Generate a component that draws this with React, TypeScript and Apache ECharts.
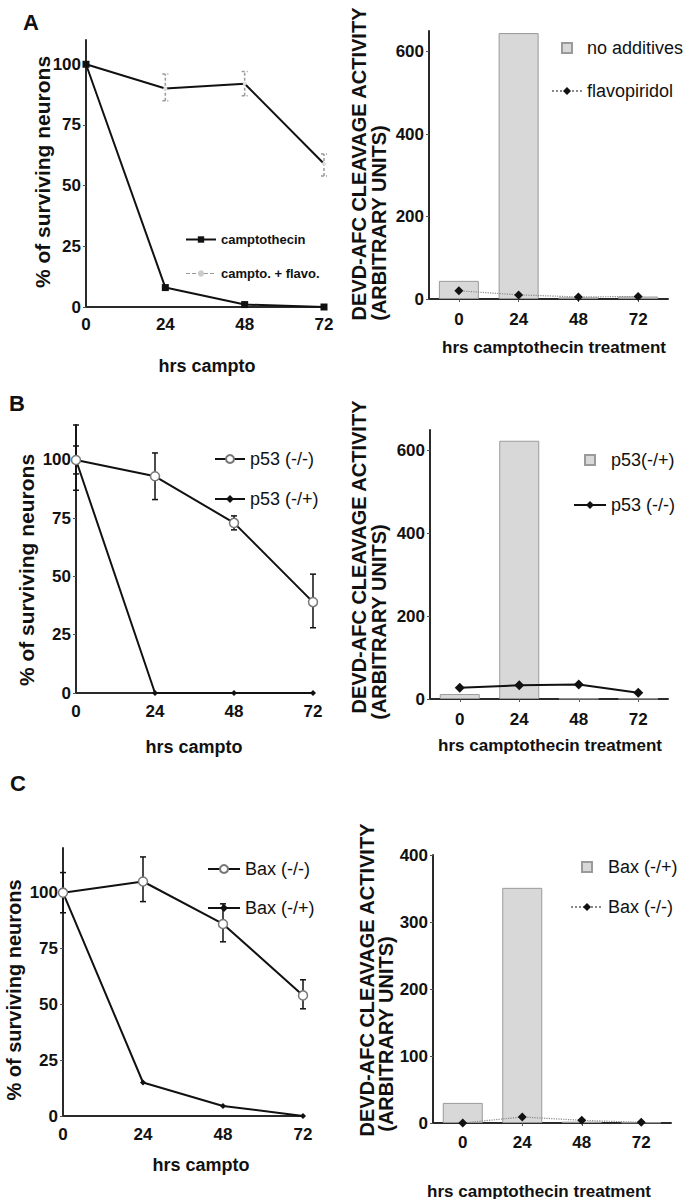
import React, { useEffect, useRef } from 'react';
import * as echarts from 'echarts';

// ---------- data ----------
const hours = [0, 24, 48, 72];
const hourLabels = ['0', '24', '48', '72'];
const survivalTicks = [0, 25, 50, 75, 100];

// Panel A
const aCamptothecin = [100, 8, 1, 0];
const aCamptoFlavo = [100, 90, 92, 59];
const aCamptoFlavoLow = [null, 85, 87, 54];
const aCamptoFlavoHigh = [null, 96, 97, 63];
const aNoAdditives = [44, 645, 4, 6];
const aFlavopiridol = [20, 10, 5, 6];
const aActivityTicks = [0, 200, 400, 600];

// Panel B
const bP53KO = [100, 93, 73, 39];
const bP53KOLow = [94, 83, 70, 28];
const bP53KOHigh = [106, 103, 76, 51];
const bP53Het = [100, 0, 0, 0];
const bP53HetLow = [87, null, null, null];
const bP53HetHigh = [115, null, null, null];
const bActivityHet = [12, 624, 1, 1];
const bActivityKO = [27, 33, 35, 15];
const bActivityTicks = [0, 200, 400, 600];

// Panel C
const cBaxKO = [100, 105, 86, 54];
const cBaxKOLow = [null, 96, 78, 48];
const cBaxKOHigh = [null, 116, 95, 61];
const cBaxHet = [100, 15, 4.5, 0];
const cBaxHetLow = [91, null, null, null];
const cBaxHetHigh = [109, null, null, null];
const cActivityHet = [30, 351, 2, 1];
const cActivityKO = [0, 9, 4, 1];
const cActivityTicks = [0, 100, 200, 300, 400];

// ---------- styling ----------
const FONT = '"Liberation Sans", Arial, Helvetica, sans-serif';
const INK = '#111';
const axisLineStyle = { color: '#2a2a2a', width: 2 };
const tickFont = { fontSize: 17, fontWeight: 'bold', color: INK, fontFamily: FONT };

const pts = (ys: (number | null)[]) => hours.map((h, i) => [h, ys[i]]);

function valueX(grid: number, margin: number) {
  return {
    type: 'value', gridIndex: grid, min: 0, max: 72, interval: 24,
    axisLine: { show: true, onZero: false, lineStyle: axisLineStyle },
    axisTick: { show: false }, splitLine: { show: false },
    axisLabel: { ...tickFont, margin },
  };
}
function categoryX(grid: number, margin: number) {
  return {
    type: 'category', gridIndex: grid, data: hourLabels, boundaryGap: true,
    axisLine: { show: true, onZero: false, lineStyle: axisLineStyle },
    axisTick: { show: true, alignWithLabel: true, length: 3, lineStyle: { color: '#555', width: 1 } },
    splitLine: { show: false },
    axisLabel: { ...tickFont, margin },
  };
}
function valueY(grid: number, max: number, interval: number, ticks: number[]) {
  return {
    type: 'value', gridIndex: grid, min: 0, max, interval,
    axisLine: { show: true, onZero: false, lineStyle: axisLineStyle },
    axisTick: { show: true, length: 3, customValues: ticks, lineStyle: { color: '#555', width: 1 } },
    splitLine: { show: false },
    axisLabel: { ...tickFont, margin: 5, customValues: ticks },
  };
}

function errorBars(idx: number, lows: (number | null)[], highs: (number | null)[], color: string, dashed: boolean) {
  const data: number[][] = [];
  hours.forEach((h, i) => {
    if (lows[i] != null && highs[i] != null) data.push([h, lows[i] as number, highs[i] as number]);
  });
  return {
    type: 'custom', xAxisIndex: idx, yAxisIndex: idx, silent: true, z: 1,
    encode: { x: 0, y: [1, 2] },
    data,
    renderItem: (params: any, api: any) => {
      const x = api.value(0);
      const p1 = api.coord([x, api.value(1)]);
      const p2 = api.coord([x, api.value(2)]);
      const style = { stroke: color, lineWidth: 1.5, lineDash: dashed ? [3, 2] : null };
      const cap = 3;
      return {
        type: 'group',
        children: [
          { type: 'line', shape: { x1: p1[0], y1: p1[1], x2: p2[0], y2: p2[1] }, style },
          { type: 'line', shape: { x1: p1[0] - cap, y1: p1[1], x2: p1[0] + cap, y2: p1[1] }, style },
          { type: 'line', shape: { x1: p2[0] - cap, y1: p2[1], x2: p2[0] + cap, y2: p2[1] }, style },
        ],
      };
    },
  };
}

const barStyle = { color: '#d8d8d8', borderColor: '#9a9a9a', borderWidth: 1 };
const squareIcon = 'path://M0,0L10,0L10,10L0,10Z';
const legendText = { fontSize: 18, color: INK, fontFamily: FONT };
const stripActivity = (name: string) => name.replace(' activity', '');

function yTitle(x: number, y: number, text: string, size: number) {
  return {
    type: 'text', x, y, rotation: Math.PI / 2,
    style: { text, fontSize: size, fontWeight: 'bold', fontFamily: FONT, fill: INK, align: 'center', verticalAlign: 'middle' },
  };
}
function label(x: number, y: number, text: string, size: number) {
  return {
    type: 'text', x, y,
    style: { text, fontSize: size, fontWeight: 'bold', fontFamily: FONT, fill: INK, align: 'center', verticalAlign: 'middle' },
  };
}

export default function App() {
  const ref = useRef<HTMLDivElement>(null);
  useEffect(() => {
    if (!ref.current) return;
    const chart = echarts.init(ref.current, null, { renderer: 'svg' });
    const option: any = {
      animation: false,
      backgroundColor: '#fff',
      textStyle: { fontFamily: FONT },
      grid: [
        { left: 86, top: 40, width: 238, height: 267 },
        { left: 429, top: 31, width: 239, height: 268 },
        { left: 76, top: 425, width: 237, height: 268 },
        { left: 430, top: 430, width: 238, height: 269 },
        { left: 63, top: 848, width: 240, height: 268 },
        { left: 433, top: 855, width: 238, height: 268 },
      ],
      xAxis: [
        valueX(0, 9),
        categoryX(1, 12),
        valueX(2, 10),
        categoryX(3, 12),
        valueX(4, 10),
        categoryX(5, 11),
      ],
      yAxis: [
        valueY(0, 110, 25, survivalTicks),
        valueY(1, 650, 200, aActivityTicks),
        valueY(2, 115, 25, survivalTicks),
        valueY(3, 650, 200, bActivityTicks),
        valueY(4, 120, 25, survivalTicks),
        valueY(5, 400, 100, cActivityTicks),
      ],
      legend: [
        {
          orient: 'vertical', left: 180, top: 228, itemWidth: 30, itemHeight: 8, itemGap: 21,
          textStyle: { fontSize: 13, fontWeight: 'bold', color: INK, fontFamily: FONT },
          data: [
            { name: 'camptothecin' },
            { name: 'campto. + flavo.', lineStyle: { color: '#999', type: 'dashed', width: 1 }, itemStyle: { color: '#ccc' } },
          ],
        },
        {
          orient: 'vertical', left: 546, top: 34, itemWidth: 30, itemHeight: 10, itemGap: 25,
          textStyle: legendText,
          data: [{ name: 'no additives', icon: squareIcon }, { name: 'flavopiridol' }],
        },
        {
          orient: 'vertical', left: 209, top: 445, itemWidth: 30, itemHeight: 10, itemGap: 22,
          textStyle: legendText,
          data: [{ name: 'p53 (-/-)' }, { name: 'p53 (-/+)' }],
        },
        {
          orient: 'vertical', left: 568, top: 446, itemWidth: 32, itemHeight: 10, itemGap: 27,
          textStyle: legendText, formatter: stripActivity,
          data: [{ name: 'p53(-/+)', icon: squareIcon }, { name: 'p53 (-/-) activity' }],
        },
        {
          orient: 'vertical', left: 202, top: 855, itemWidth: 32, itemHeight: 10, itemGap: 21,
          textStyle: legendText,
          data: [{ name: 'Bax (-/-)' }, { name: 'Bax (-/+)' }],
        },
        {
          orient: 'vertical', left: 565, top: 853, itemWidth: 32, itemHeight: 10, itemGap: 22,
          textStyle: legendText, formatter: stripActivity,
          data: [{ name: 'Bax (-/+) activity', icon: squareIcon }, { name: 'Bax (-/-) activity' }],
        },
      ],
      series: [
        // A left
        errorBars(0, aCamptoFlavoLow, aCamptoFlavoHigh, '#9a9a9a', true),
        {
          name: 'campto. + flavo.', type: 'line', xAxisIndex: 0, yAxisIndex: 0, z: 2,
          data: pts(aCamptoFlavo), symbol: 'circle', symbolSize: 4,
          itemStyle: { color: '#dddddd' }, lineStyle: { color: INK, width: 2 },
        },
        {
          name: 'camptothecin', type: 'line', xAxisIndex: 0, yAxisIndex: 0, z: 3,
          data: pts(aCamptothecin), symbol: 'rect', symbolSize: 7,
          itemStyle: { color: INK }, lineStyle: { color: INK, width: 2 },
        },
        // A right
        {
          name: 'no additives', type: 'bar', xAxisIndex: 1, yAxisIndex: 1, barWidth: 40,
          data: aNoAdditives, itemStyle: barStyle,
        },
        {
          name: 'flavopiridol', type: 'line', xAxisIndex: 1, yAxisIndex: 1, z: 3,
          data: aFlavopiridol, symbol: 'diamond', symbolSize: 9,
          itemStyle: { color: INK }, lineStyle: { color: '#888', width: 1.2, type: 'dotted' },
        },
        // B left
        errorBars(2, bP53KOLow, bP53KOHigh, INK, false),
        errorBars(2, bP53HetLow, bP53HetHigh, INK, false),
        {
          name: 'p53 (-/+)', type: 'line', xAxisIndex: 2, yAxisIndex: 2, z: 2,
          data: pts(bP53Het), symbol: 'diamond', symbolSize: 6,
          itemStyle: { color: INK }, lineStyle: { color: INK, width: 2 },
        },
        {
          name: 'p53 (-/-)', type: 'line', xAxisIndex: 2, yAxisIndex: 2, z: 3,
          data: pts(bP53KO), symbol: 'circle', symbolSize: 9,
          itemStyle: { color: '#fff', borderColor: '#777', borderWidth: 1.5 }, lineStyle: { color: INK, width: 2 },
        },
        // B right
        {
          name: 'p53(-/+)', type: 'bar', xAxisIndex: 3, yAxisIndex: 3, barWidth: 40,
          data: bActivityHet, itemStyle: barStyle,
        },
        {
          name: 'p53 (-/-) activity', type: 'line', xAxisIndex: 3, yAxisIndex: 3, z: 3,
          data: bActivityKO, symbol: 'diamond', symbolSize: 10,
          itemStyle: { color: INK }, lineStyle: { color: INK, width: 2 },
        },
        // C left
        errorBars(4, cBaxKOLow, cBaxKOHigh, INK, false),
        errorBars(4, cBaxHetLow, cBaxHetHigh, INK, false),
        {
          name: 'Bax (-/+)', type: 'line', xAxisIndex: 4, yAxisIndex: 4, z: 2,
          data: pts(cBaxHet), symbol: 'diamond', symbolSize: 6,
          itemStyle: { color: INK }, lineStyle: { color: INK, width: 2 },
        },
        {
          name: 'Bax (-/-)', type: 'line', xAxisIndex: 4, yAxisIndex: 4, z: 3,
          data: pts(cBaxKO), symbol: 'circle', symbolSize: 9,
          itemStyle: { color: '#fff', borderColor: '#777', borderWidth: 1.5 }, lineStyle: { color: INK, width: 2 },
        },
        // C right
        {
          name: 'Bax (-/+) activity', type: 'bar', xAxisIndex: 5, yAxisIndex: 5, barWidth: 40,
          data: cActivityHet, itemStyle: barStyle,
        },
        {
          name: 'Bax (-/-) activity', type: 'line', xAxisIndex: 5, yAxisIndex: 5, z: 3,
          data: cActivityKO, symbol: 'diamond', symbolSize: 9,
          itemStyle: { color: INK }, lineStyle: { color: '#888', width: 1.2, type: 'dotted' },
        },
      ],
      graphic: [
        label(31, 22, 'A', 22),
        label(17, 403, 'B', 22),
        label(18, 783, 'C', 22),
        yTitle(42, 172, '% of surviving neurons', 21),
        yTitle(26, 570, '% of surviving neurons', 21),
        yTitle(14, 990, '% of surviving neurons', 20),
        yTitle(359, 164, 'DEVD-AFC CLEAVAGE ACTIVITY', 20),
        yTitle(379, 223, '(ARBITRARY UNITS)', 20),
        yTitle(359, 557, 'DEVD-AFC CLEAVAGE ACTIVITY', 20),
        yTitle(379, 622, '(ARBITRARY UNITS)', 20),
        yTitle(367, 980, 'DEVD-AFC CLEAVAGE ACTIVITY', 20),
        yTitle(386, 1034, '(ARBITRARY UNITS)', 20),
        label(207, 366, 'hrs campto', 18),
        label(554, 347, 'hrs camptothecin treatment', 17),
        label(194, 747, 'hrs campto', 18),
        label(550, 745, 'hrs camptothecin treatment', 17),
        label(201, 1165, 'hrs campto', 18),
        label(539, 1191, 'hrs camptothecin treatment', 17),
      ],
    };
    chart.setOption(option);
    return () => chart.dispose();
  }, []);
  return (
    <div
      ref={ref}
      style={{ position: 'absolute', left: 0, top: 0, width: 686, height: 1199, background: '#fff' }}
    />
  );
}
